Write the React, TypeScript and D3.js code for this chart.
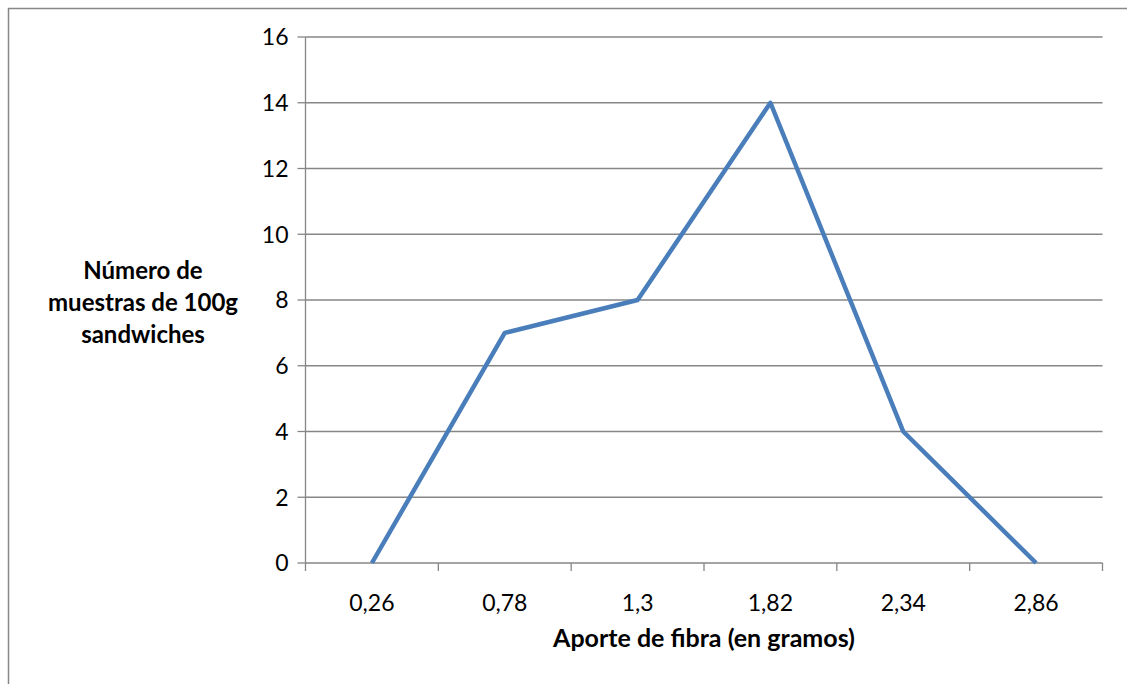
import React from "react";
import * as d3 from "d3";

const categories = ["0,26", "0,78", "1,3", "1,82", "2,34", "2,86"];
const values = [0, 7, 8, 14, 4, 0];
const yTicks = [0, 2, 4, 6, 8, 10, 12, 14, 16];
const yTitleLines = ["Número de", "muestras de 100g", "sandwiches"];
const xTitle = "Aporte de fibra (en gramos)";

export default function App() {
  const W = 1127, H = 684;
  const left = 305.5, right = 1102.5, top = 37, bottom = 563;
  const x = d3.scaleBand().domain(categories).range([left, right]);
  const y = d3.scaleLinear().domain([0, 16]).range([bottom, top]);
  const line = d3.line<number>()
    .x((_, i) => (x(categories[i]) as number) + x.bandwidth() / 2)
    .y((d) => y(d));
  const font = "Lato, 'Open Sans', sans-serif";
  const bounds = [...categories.map((c) => x(c) as number), right];
  return (
    <svg width={W} height={H} style={{ position: "absolute", left: 0, top: 0 }}>
      <rect x={0} y={0} width={W} height={H} fill="#fff" />
      <rect x={8.5} y={8.5} width={W + 10} height={H + 10} fill="none" stroke="#878787" strokeWidth={1.5} />
      {yTicks.map((t) => (
        <g key={t}>
          <line x1={left} x2={right} y1={y(t)} y2={y(t)} stroke="#868686" strokeWidth={1.3} />
          <line x1={left - 8} x2={left} y1={y(t)} y2={y(t)} stroke="#868686" strokeWidth={1.3} />
          <text x={left - 17} y={y(t)} dy="0.36em" textAnchor="end" fontSize={23} fontFamily={font} fill="#000">{t}</text>
        </g>
      ))}
      <line x1={left} x2={left} y1={top} y2={bottom} stroke="#868686" strokeWidth={1.3} />
      {bounds.map((b, i) => (
        <line key={i} x1={b} x2={b} y1={bottom} y2={bottom + 8} stroke="#868686" strokeWidth={1.3} />
      ))}
      {categories.map((c) => (
        <text key={c} x={(x(c) as number) + x.bandwidth() / 2} y={bottom + 48} textAnchor="middle" fontSize={23} fontFamily={font} fill="#000">{c}</text>
      ))}
      <path d={line(values) || ""} fill="none" stroke="#4a7ebb" strokeWidth={4.5} strokeLinejoin="round" />
      <text x={(left + right) / 2 + 0} y={647} textAnchor="middle" fontSize={25} fontWeight="bold" fontFamily={font} fill="#000">{xTitle}</text>
      {yTitleLines.map((l, i) => (
        <text key={i} x={143} y={279 + i * 32} textAnchor="middle" fontSize={24} fontWeight="bold" fontFamily={font} fill="#000">{l}</text>
      ))}
    </svg>
  );
}
